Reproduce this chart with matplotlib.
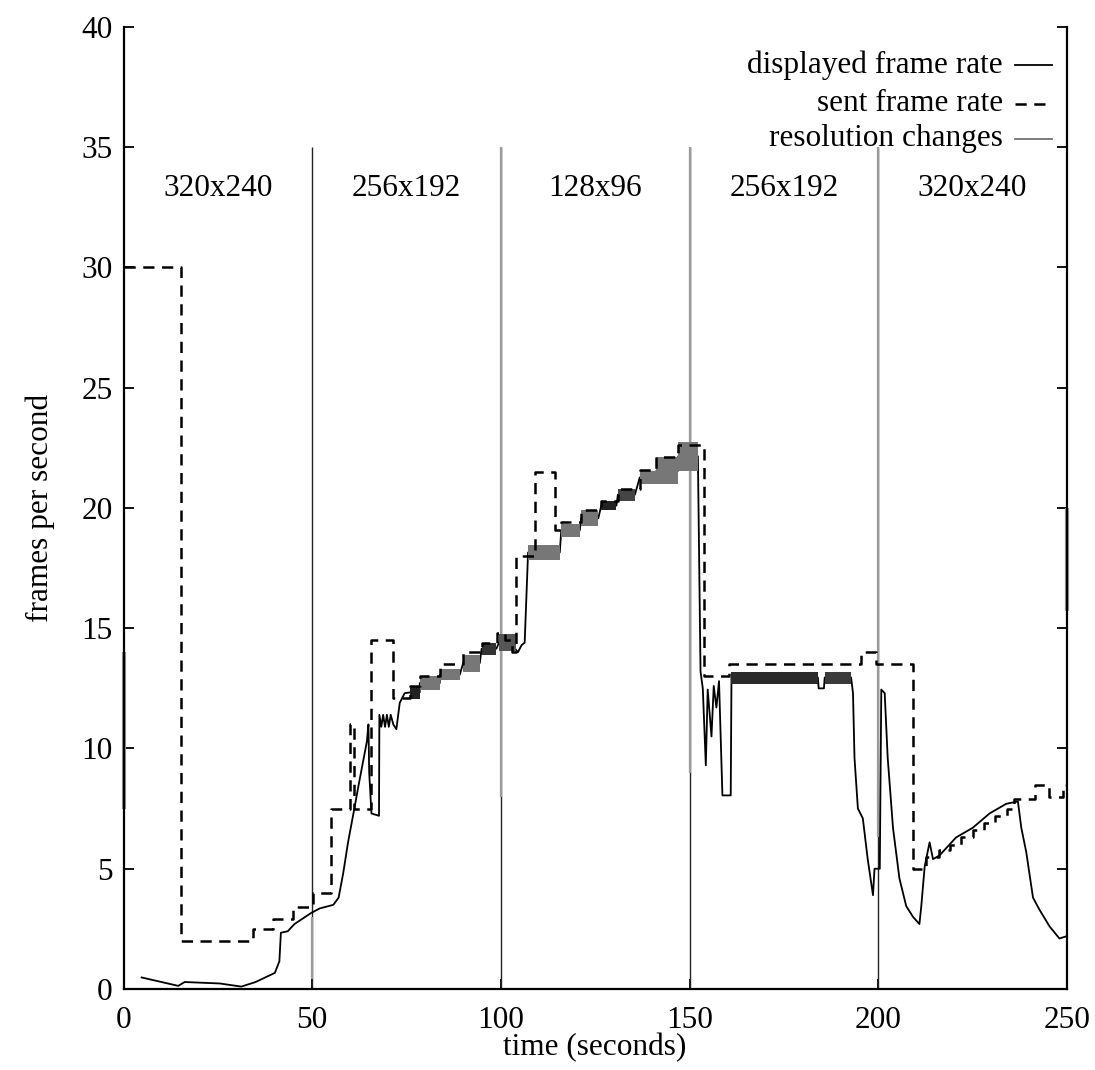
import matplotlib
matplotlib.use('Agg')
import matplotlib.pyplot as plt

plt.rcParams['font.family'] = ['Liberation Serif', 'DejaVu Serif']

# ---------------- data ----------------
# sent frame rate (step function, value holds until next time)
sent_t = [0, 15.2, 34.4, 39.7, 45.0, 50.3, 55.1, 60.0, 61.2, 65.7, 71.5, 73.0,
          75.9, 78.5, 83.8, 90.0, 94.9, 99.0, 101.0, 103.0, 104.1, 109.0, 114.3,
          116.0, 121.3, 126.6, 131.0, 136.8, 141.2, 147.0, 153.7, 160.5, 195.3,
          199.3, 209.2, 212.6, 216.0, 219.0, 222.0, 225.0, 228.0, 231.0, 234.0,
          236.0, 241.4, 245.3, 248.9, 250.0]
sent_v = [30.0, 2.0, 2.5, 2.9, 3.4, 4.0, 7.5, 11.0, 7.5, 14.5, 12.1, 12.1,
          12.6, 13.0, 13.5, 14.0, 14.4, 14.8, 14.5, 14.0, 18.0, 21.5, 19.1,
          19.4, 19.9, 20.3, 20.8, 21.6, 22.1, 22.6, 13.0, 13.5, 14.0,
          13.5, 5.0, 5.5, 5.8, 6.0, 6.3, 6.6, 6.9, 7.2, 7.5,
          7.9, 8.5, 8.0, 8.5, 8.5]

# displayed frame rate
disp_t = [4.8, 14.5, 16.2, 25.5, 31.2, 35.0, 40.1, 41.3, 41.7, 43.5, 45.3, 49.7,
          52.0, 55.6, 57.0, 58.2, 59.5, 61.4, 62.2, 64.5, 64.9, 65.1, 65.7, 67.7,
          67.8, 68.3, 68.8, 69.3, 69.8, 70.3, 70.8, 71.5, 72.3, 73.2, 74.5,
          75.9, 78.5, 78.5, 83.8, 83.8, 89.1, 90.0, 94.4, 94.9, 98.8,
          99.5, 100.2, 103.0, 104.5, 105.5, 106.3, 107.2, 115.6, 116.0, 120.9,
          121.3, 125.8, 126.6, 130.6, 131.0, 135.5, 136.8, 141.2, 141.2, 147.0,
          147.0, 152.2, 152.9,
          153.5, 154.3, 154.8, 155.8, 156.4, 157.1, 157.8, 158.7, 160.9, 161.1,
          184.0, 184.2, 185.6, 185.8, 192.8, 193.3, 193.7, 194.6, 195.9, 197.2,
          198.6, 199.0, 200.4, 200.8, 201.7, 202.5, 203.9, 205.6, 207.4, 209.2,
          210.9, 211.4, 212.3, 213.6, 214.5, 216.2, 220.6, 225.0, 229.5, 233.9,
          237.0, 237.9, 239.2, 241.0, 242.7, 245.4, 248.0, 250.0]
disp_v = [0.48, 0.13, 0.29, 0.23, 0.10, 0.29, 0.67, 1.15, 2.34, 2.40, 2.70, 3.16,
          3.35, 3.50, 3.80, 4.80, 6.10, 7.70, 8.40, 10.3, 11.0, 9.0, 7.3, 7.2,
          11.4, 10.9, 11.4, 10.9, 11.4, 10.9, 11.4, 11.0, 10.8, 11.9, 12.3,
          12.33, 12.33, 12.72, 12.72, 13.07, 13.07, 13.55, 13.55, 14.15, 14.15,
          14.4, 14.6, 14.3, 14.0, 14.3, 14.4, 18.15, 18.15, 19.07, 19.07,
          19.57, 19.57, 20.1, 20.1, 20.55, 20.55, 21.27, 21.27, 21.55, 21.55,
          22.15, 22.15, 13.2,
          12.5, 9.3, 12.45, 10.5, 12.6, 11.7, 12.8, 8.05, 8.05, 12.95,
          12.95, 12.5, 12.5, 12.95, 12.95, 12.3, 9.6, 7.5, 7.1, 5.4,
          3.9, 5.0, 5.0, 12.45, 12.3, 9.6, 6.7, 4.6, 3.45, 3.0,
          2.7, 3.45, 5.1, 6.1, 5.4, 5.55, 6.3, 6.7, 7.3, 7.7,
          7.8, 6.7, 5.7, 3.8, 3.3, 2.6, 2.1, 2.2]

# bands where the displayed rate oscillates quickly between two values
band_t0 = [75.9, 78.5, 83.8, 90.0, 94.9, 99.5, 107.2, 116.0, 121.3, 126.6, 131.0, 136.8, 141.2, 147.0, 161.0, 185.8]
band_t1 = [78.5, 83.8, 89.1, 94.4, 98.8, 104.0, 115.6, 120.9, 125.8, 130.6, 135.5, 141.2, 147.0, 152.2, 184.0, 192.8]
band_lo = [12.07, 12.45, 12.85, 13.2, 13.9, 14.05, 17.85, 18.8, 19.25, 19.9, 20.3, 21.0, 21.0, 21.55, 12.7, 12.7]
band_hi = [12.6, 13.0, 13.3, 13.9, 14.4, 14.75, 18.45, 19.35, 19.9, 20.3, 20.8, 21.55, 22.1, 22.75, 13.2, 13.2]
band_shade = ['#222222', '#777777', '#777777', '#777777', '#333333', '#555555', '#777777', '#777777',
              '#777777', '#222222', '#444444', '#777777', '#777777', '#777777', '#2a2a2a', '#3a3a3a']

# resolution changes (full lines) and the lighter parts of those lines
res_t = [50, 100, 150, 200]
res_top = 35
res_light_t = [50, 100, 150, 200]
res_light_lo = [0.4, 8.0, 9.0, 6.3]
res_light_hi = [3.0, 35.0, 35.0, 35.0]
edge_t = [0, 250]
edge_lo = [7.5, 15.7]
edge_hi = [14.0, 20.0]

region_labels = ['320x240', '256x192', '128x96', '256x192', '320x240']
region_centers = [25, 75, 125, 175, 225]

xticks = [0, 50, 100, 150, 200, 250]
yticks = [0, 5, 10, 15, 20, 25, 30, 35, 40]

# ---------------- plot ----------------
fig = plt.figure(figsize=(10.95, 10.70), dpi=100)
ax = fig.add_axes([0.1128, 0.0757, 0.8616, 0.8991])
ax.set_xlim(0, 250)
ax.set_ylim(0, 40)

ax.vlines(res_t, 0, res_top, color='#222222', lw=1.0, zorder=2)
ax.vlines(res_light_t, res_light_lo, res_light_hi, color='#9a9a9a', lw=1.6, zorder=2)
ax.vlines(edge_t, edge_lo, edge_hi, color='#999999', lw=3, zorder=2, clip_on=False)

ax.plot(disp_t, disp_v, color='black', lw=1.3, zorder=3)
for t0, t1, lo, hi, c in zip(band_t0, band_t1, band_lo, band_hi, band_shade):
    ax.fill_between([t0, t1], [lo, lo], [hi, hi], color=c, lw=0, zorder=4)

ax.step(sent_t, sent_v, where='post', color='black', lw=1.8, dashes=(4.5, 3.0), zorder=5)

for lab, c in zip(region_labels, region_centers):
    ax.text(c, 33.3, lab, ha='center', va='center', fontsize=22.5)

# legend (gnuplot style)
leg_text = ['displayed frame rate', 'sent frame rate', 'resolution changes']
leg_y = [0.9600, 0.9200, 0.8840]
for txt, yy in zip(leg_text, leg_y):
    ax.text(0.9321, yy, txt, transform=ax.transAxes, ha='right', va='center', fontsize=22.5)
ax.plot([0.9448, 0.9840], [leg_y[0]] * 2, transform=ax.transAxes, color='black', lw=1.3)
ax.plot([0.9448, 0.9840], [leg_y[1]] * 2, transform=ax.transAxes, color='black', lw=1.8, dashes=(4.5, 3.0))
ax.plot([0.9448, 0.9840], [leg_y[2]] * 2, transform=ax.transAxes, color='#666666', lw=1.2)

ax.set_xticks(xticks)
ax.set_yticks(yticks)
ax.tick_params(axis='both', direction='in', length=7, width=1.3, top=False, right=True,
               labelsize=22.5)
ax.tick_params(axis='x', pad=12)
ax.tick_params(axis='y', pad=8)
for s in ax.spines.values():
    s.set_linewidth(1.6)
ax.spines['top'].set_visible(False)

fig.text(595 / 1095, 1 - 1048 / 1070, 'time (seconds)', ha='center', va='center', fontsize=22.5)
fig.text(40 / 1095, 1 - 508 / 1070, 'frames per second', ha='center', va='center',
         rotation=90, fontsize=22.5)

fig.savefig('out.png', dpi=100)
